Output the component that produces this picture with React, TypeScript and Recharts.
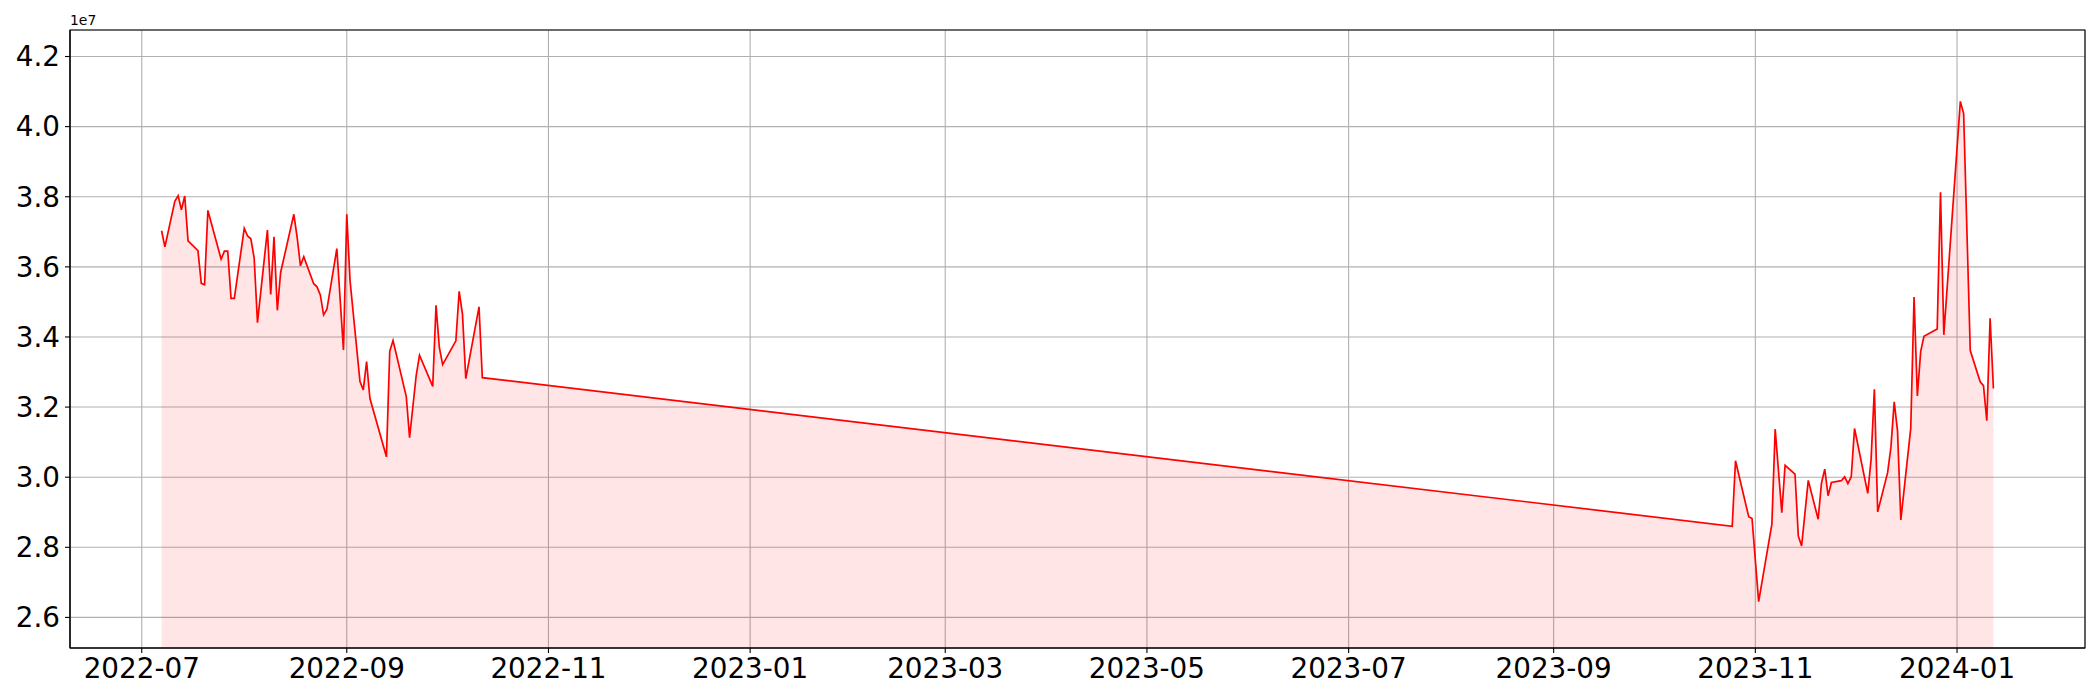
import React from "react";
import { AreaChart, Area, XAxis, YAxis, CartesianGrid, ReferenceArea } from "recharts";

// values are in units of 1e7
const dates2022 = [
  "2022-07-07", "2022-07-08", "2022-07-11", "2022-07-12", "2022-07-13", "2022-07-14", "2022-07-15",
  "2022-07-18", "2022-07-19", "2022-07-20", "2022-07-21", "2022-07-25", "2022-07-26", "2022-07-27",
  "2022-07-28", "2022-07-29", "2022-08-01", "2022-08-02", "2022-08-03", "2022-08-04", "2022-08-05",
  "2022-08-08", "2022-08-09", "2022-08-10", "2022-08-11", "2022-08-12", "2022-08-16", "2022-08-17",
  "2022-08-18", "2022-08-19", "2022-08-22", "2022-08-23", "2022-08-24", "2022-08-25", "2022-08-26",
  "2022-08-29", "2022-08-31", "2022-09-01", "2022-09-02", "2022-09-05", "2022-09-06", "2022-09-07",
  "2022-09-08", "2022-09-13", "2022-09-14", "2022-09-15", "2022-09-19", "2022-09-20", "2022-09-22",
  "2022-09-23", "2022-09-27", "2022-09-28", "2022-09-29", "2022-09-30", "2022-10-04", "2022-10-05",
  "2022-10-06", "2022-10-07", "2022-10-11", "2022-10-12",
];
const values2022 = [
  3.703, 3.657, 3.787, 3.803, 3.763, 3.802, 3.674,
  3.646, 3.553, 3.549, 3.761, 3.622, 3.645, 3.645,
  3.51, 3.51, 3.71, 3.688, 3.68, 3.625, 3.441,
  3.705, 3.521, 3.686, 3.476, 3.584, 3.75, 3.684,
  3.603, 3.629, 3.552, 3.543, 3.52, 3.463, 3.479,
  3.652, 3.363, 3.75, 3.56, 3.273, 3.249, 3.33,
  3.225, 3.058, 3.359, 3.39, 3.23, 3.113, 3.29,
  3.348, 3.259, 3.49, 3.37, 3.321, 3.389, 3.53,
  3.465, 3.281, 3.486, 3.284,
];

const dates2023 = [
  "2023-10-25", "2023-10-26", "2023-10-30", "2023-10-31", "2023-11-02", "2023-11-06", "2023-11-07",
  "2023-11-09", "2023-11-10", "2023-11-13", "2023-11-14", "2023-11-15", "2023-11-17", "2023-11-20",
  "2023-11-21", "2023-11-22", "2023-11-23", "2023-11-24", "2023-11-27", "2023-11-28", "2023-11-29",
  "2023-11-30", "2023-12-01", "2023-12-05", "2023-12-06", "2023-12-07", "2023-12-08", "2023-12-11",
  "2023-12-12", "2023-12-13", "2023-12-14", "2023-12-15", "2023-12-18", "2023-12-19", "2023-12-20",
  "2023-12-21", "2023-12-22", "2023-12-26", "2023-12-27", "2023-12-28", "2024-01-02", "2024-01-03",
  "2024-01-05", "2024-01-08", "2024-01-09", "2024-01-10", "2024-01-11", "2024-01-12",
];
const values2023 = [
  2.86, 3.047, 2.887, 2.882, 2.645, 2.866, 3.137,
  2.899, 3.034, 3.009, 2.832, 2.804, 2.991, 2.88,
  2.983, 3.023, 2.947, 2.985, 2.99, 3.001, 2.982,
  3.001, 3.139, 2.954, 3.05, 3.251, 2.901, 3.013,
  3.085, 3.215, 3.132, 2.878, 3.139, 3.514, 3.232,
  3.358, 3.402, 3.423, 3.813, 3.406, 4.072, 4.037,
  3.361, 3.272, 3.261, 3.161, 3.453, 3.253,
];

const xTickLabels = [
  "2022-07", "2022-09", "2022-11", "2023-01", "2023-03",
  "2023-05", "2023-07", "2023-09", "2023-11", "2024-01",
];
const yTickLabels = ["2.6", "2.8", "3.0", "3.2", "3.4", "3.6", "3.8", "4.0", "4.2"];

const toTs = (s: string) => {
  const [y, m, d] = s.split("-").map(Number);
  return Date.UTC(y, m - 1, d || 1);
};

const data = [
  ...dates2022.map((d, i) => ({ t: toTs(d), v: values2022[i] })),
  ...dates2023.map((d, i) => ({ t: toTs(d), v: values2023[i] })),
];

const allValues = [...values2022, ...values2023];
const yMin = Math.min(...allValues) * 0.95;
const yMax = Math.max(...allValues) * 1.05;
const tFirst = data[0].t;
const tLast = data[data.length - 1].t;
const xPad = (tLast - tFirst) * 0.05;
const xMin = tFirst - xPad;
const xMax = tLast + xPad;

const xTicks = xTickLabels.map(toTs);
const yTicks = yTickLabels.map(Number);

const fmtMonth = (t: number) => {
  const d = new Date(t);
  return `${d.getUTCFullYear()}-${String(d.getUTCMonth() + 1).padStart(2, "0")}`;
};

const tickStyle = { fill: "#000", fontSize: 27.8, fontFamily: "DejaVu Sans" };

export default function App() {
  return (
    <div style={{ position: "absolute", left: 0, top: 0, width: 2100, height: 700, background: "#fff" }}>
      <div
        style={{
          position: "absolute",
          left: 70,
          top: 14,
          fontFamily: "DejaVu Sans",
          fontSize: 13.9,
          lineHeight: 1,
          color: "#000",
        }}
      >
        1e7
      </div>
      <AreaChart
        width={2100}
        height={700}
        data={data}
        margin={{ top: 30, right: 15, left: 0, bottom: 0 }}
      >
        <CartesianGrid stroke="#b0b0b0" strokeWidth={1.1} />
        <XAxis
          dataKey="t"
          type="number"
          domain={[xMin, xMax]}
          allowDataOverflow
          ticks={xTicks}
          interval={0}
          tickFormatter={fmtMonth}
          tick={tickStyle}
          tickSize={5}
          tickMargin={5}
          height={52}
          axisLine={{ stroke: "#000", strokeWidth: 1.1 }}
          tickLine={{ stroke: "#000", strokeWidth: 1.1 }}
        />
        <YAxis
          type="number"
          domain={[yMin, yMax]}
          allowDataOverflow
          ticks={yTicks}
          interval={0}
          tickFormatter={(v: number) => v.toFixed(1)}
          tick={tickStyle}
          tickSize={5}
          tickMargin={5}
          width={70}
          axisLine={{ stroke: "#000", strokeWidth: 1.1 }}
          tickLine={{ stroke: "#000", strokeWidth: 1.1 }}
        />
        <Area
          type="linear"
          dataKey="v"
          baseValue={yMin}
          stroke="#ff0000"
          strokeWidth={1.7}
          fill="#ff0000"
          fillOpacity={0.1}
          dot={false}
          activeDot={false}
          isAnimationActive={false}
        />
        <ReferenceArea
          x1={xMin}
          x2={xMax}
          y1={yMin}
          y2={yMax}
          fill="none"
          stroke="#000"
          strokeWidth={1.1}
        />
      </AreaChart>
    </div>
  );
}
